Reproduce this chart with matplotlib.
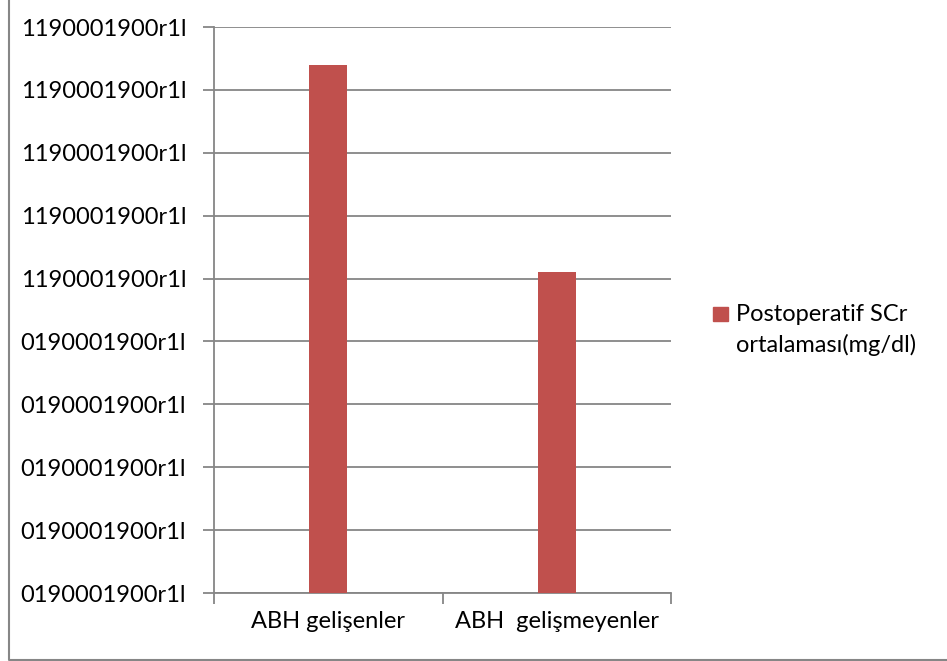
import matplotlib
matplotlib.use("Agg")
import matplotlib.pyplot as plt
from matplotlib.patches import Rectangle
from matplotlib.lines import Line2D

# Data
categories = ["ABH gelişenler", "ABH  gelişmeyenler"]
values = [1.68, 1.02]
series_name = "Postoperatif SCr\nortalaması(mg/dl)"
tick_values = [0.0, 0.2, 0.4, 0.6, 0.8, 1.0, 1.2, 1.4, 1.6, 1.8]
tick_labels = ["0190001900r1l"] * 5 + ["1190001900r1l"] * 5

plt.rcParams["font.family"] = ["Lato", "DejaVu Sans"]
W, H = 947, 661
fig = plt.figure(figsize=(W / 100, H / 100), dpi=100)

# plot area in pixel coordinates
left, right, top, bottom = 214, 671, 27, 593
ax = fig.add_axes([left / W, 1 - bottom / H, (right - left) / W, (bottom - top) / H])

bar_color = "#C0504D"
grid_color = "#868686"
fs = 17
x = [0, 1]
ax.bar(x, values, width=0.166, color=bar_color, zorder=3)
ax.set_xlim(-0.5, 1.5)
ax.set_ylim(0, 1.8)

ax.set_yticks(tick_values)
ax.set_yticklabels(tick_labels, fontsize=fs)
ax.yaxis.grid(True, color=grid_color, linewidth=1.3, zorder=0)
ax.tick_params(axis="y", length=8, width=1.3, color=grid_color, pad=12)

ax.set_xticks([-0.5, 0.5, 1.5], minor=False)
ax.set_xticklabels([])
ax.tick_params(axis="x", length=8, width=1.3, color=grid_color)
for xi, lab in zip(x, categories):
    ax.text(xi, -0.09, lab, ha="center", va="center", fontsize=fs,
            transform=ax.transData, clip_on=False)

for s in ["top", "right"]:
    ax.spines[s].set_visible(False)
for s in ["left", "bottom"]:
    ax.spines[s].set_color(grid_color)
    ax.spines[s].set_linewidth(1.3)

# legend
fig.patches.append(Rectangle((713 / W, 1 - 321 / H), 15 / W, 14 / H,
                             transform=fig.transFigure, color=bar_color))
fig.text(736 / W, 1 - 330 / H, series_name, ha="left", va="center",
         fontsize=fs, linespacing=1.45)

# outer frame (left and bottom edges)
fig.lines.append(Line2D([8.5 / W, 8.5 / W, 1.0], [1.0, 1 - 659.5 / H, 1 - 659.5 / H],
                        transform=fig.transFigure, color=grid_color, linewidth=1.5))

fig.savefig("out.png", dpi=100)
